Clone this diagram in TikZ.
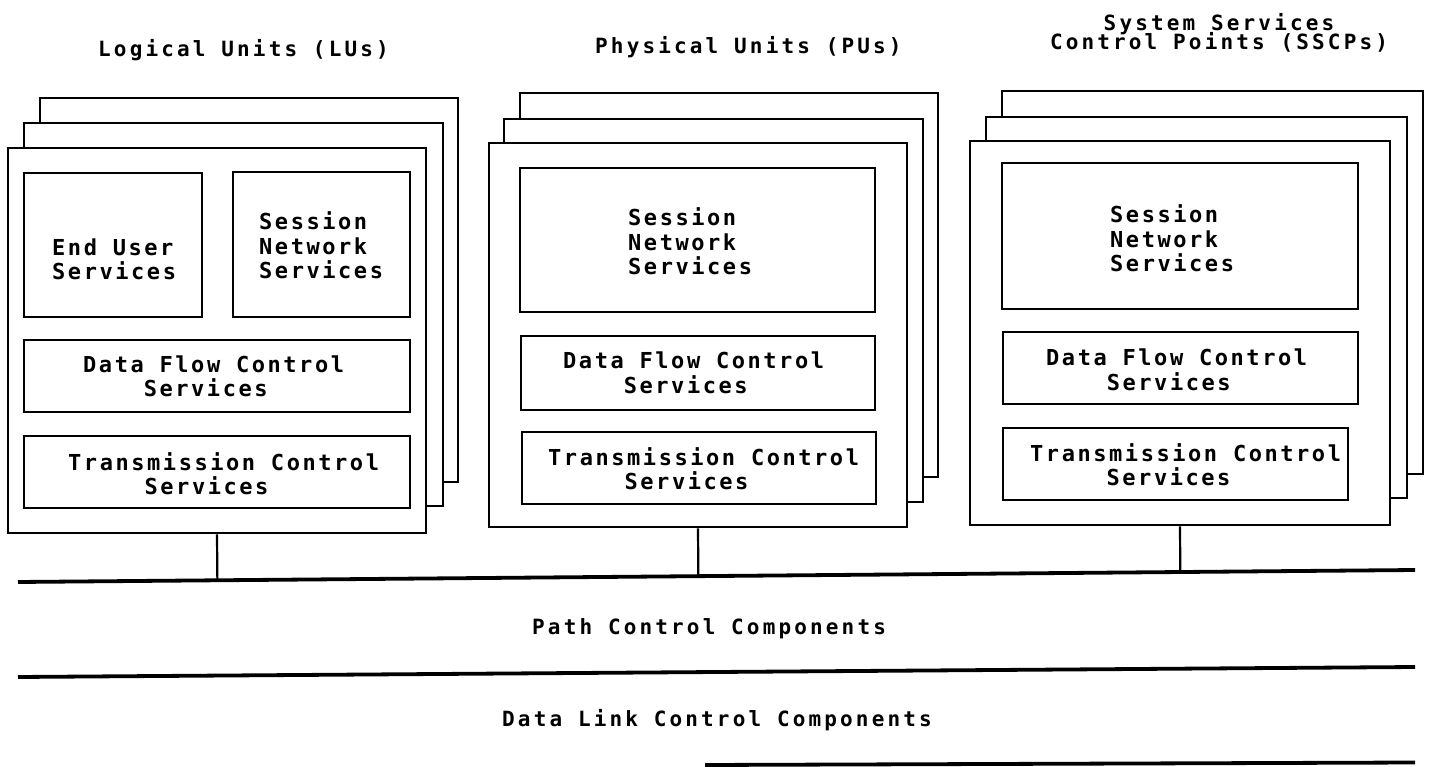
\documentclass[tikz,border=0pt]{standalone}
\usepackage{fontspec}
\usetikzlibrary{fit,calc}
\newfontfamily\ibmfont[LetterSpace=11.6]{DejaVu Sans Mono Bold}
\newfontfamily\headfont[LetterSpace=15]{DejaVu Sans Mono Bold}
\newcommand\tightlines{\lineskiplimit=-20pt\relax}
\tikzset{
  card/.style={draw, line width=2.8pt, fill=white, inner sep=0pt},
  part/.style={draw, line width=2.8pt, inner sep=0pt},
  txt/.style={font={\ibmfont\fontsize{22}{24.5}\selectfont}, align=left, inner sep=0pt, anchor=west},
  head/.style={font={\headfont\fontsize{21}{19}\selectfont\tightlines}, inner sep=0pt},
  bus/.style={line width=3.8pt},
  link/.style={line width=2.2pt}
}
\begin{document}
\begin{tikzpicture}[x=1pt,y=-1pt]
\useasboundingbox (0,0) rectangle (1430,767);

% headings
\node[head, anchor=base west] (lu-title) at (98,57) {Logical Units (LUs)};
\node[head, anchor=base west] (pu-title) at (595,54) {Physical Units (PUs)};
\node[head, align=center, anchor=north] (sscp-title) at (1219,13) {System Services\\Control Points (SSCPs)};

% logical units: stacked frames
\node[card, fit={(40,98)(458,482)}] (lu-back) {};
\node[card, fit={(24,123)(443,506)}] (lu-mid) {};
\node[card, fit={(8,148)(426,533)}] (lu-front) {};
\node[part, fit={(24,173)(202,317)}] (lu-eus) {};
\node[part, fit={(233,172)(410,317)}] (lu-sns) {};
\node[part, fit={(24,340)(410,412)}] (lu-dfc) {};
\node[part, fit={(24,436)(410,508)}] (lu-tc) {};
\node[txt] (lu-eus-t) at (52,259.5) {End User\\Services};
\node[txt] (lu-sns-t) at (259,245.5) {Session\\Network\\Services};
\node[txt] (lu-dfc-t) at (83,376.5) {Data Flow Control\\\phantom{Data}Services};
\node[txt] (lu-tc-t) at (68,473.5) {Transmission Control\\\phantom{Trans}Services};

% physical units: stacked frames
\node[card, fit={(520,93)(938,477)}] (pu-back) {};
\node[card, fit={(504,119)(923,502)}] (pu-mid) {};
\node[card, fit={(489,143)(907,527)}] (pu-front) {};
\node[part, fit={(520,168)(875,312)}] (pu-sns) {};
\node[part, fit={(521,336)(875,410)}] (pu-dfc) {};
\node[part, fit={(522,432)(876,504)}] (pu-tc) {};
\node[txt] (pu-sns-t) at (628,241.5) {Session\\Network\\Services};
\node[txt] (pu-dfc-t) at (563,373) {Data Flow Control\\\phantom{Data}Services};
\node[txt] (pu-tc-t) at (548,468.5) {Transmission Control\\\phantom{Trans}Services};

% system services control points: stacked frames
\node[card, fit={(1002,91)(1423,474)}] (sscp-back) {};
\node[card, fit={(986,117)(1407,498)}] (sscp-mid) {};
\node[card, fit={(970,141)(1390,525)}] (sscp-front) {};
\node[part, fit={(1002,163)(1358,309)}] (sscp-sns) {};
\node[part, fit={(1003,332)(1358,404)}] (sscp-dfc) {};
\node[part, fit={(1003,428)(1348,500)}] (sscp-tc) {};
\node[txt] (sscp-sns-t) at (1110,238.5) {Session\\Network\\Services};
\node[txt] (sscp-dfc-t) at (1046,370) {Data Flow Control\\\phantom{Data}Services};
\node[txt] (sscp-tc-t) at (1030,464.5) {Transmission Control\\\phantom{Trans}Services};

% component layers
\coordinate (bus1-w) at (18,582);
\coordinate (bus1-e) at (1415,570);
\coordinate (bus2-w) at (18,677);
\coordinate (bus2-e) at (1415,667);
\coordinate (bus3-w) at (705,765);
\coordinate (bus3-e) at (1415,762.5);
\draw[bus] (bus1-w) -- (bus1-e);
\draw[bus] (bus2-w) -- (bus2-e);
\draw[bus] (bus3-w) -- (bus3-e);

\draw[link] (lu-front.south) -- ($(bus1-w)!(lu-front.south)!(bus1-e)$);
\draw[link] (pu-front.south) -- ($(bus1-w)!(pu-front.south)!(bus1-e)$);
\draw[link] (sscp-front.south) -- ($(bus1-w)!(sscp-front.south)!(bus1-e)$);

\node[head, anchor=base west] (pc-label) at (532,634) {Path Control Components};
\node[head, anchor=base west] (dlc-label) at (502,726) {Data Link Control Components};
\end{tikzpicture}
\end{document}
